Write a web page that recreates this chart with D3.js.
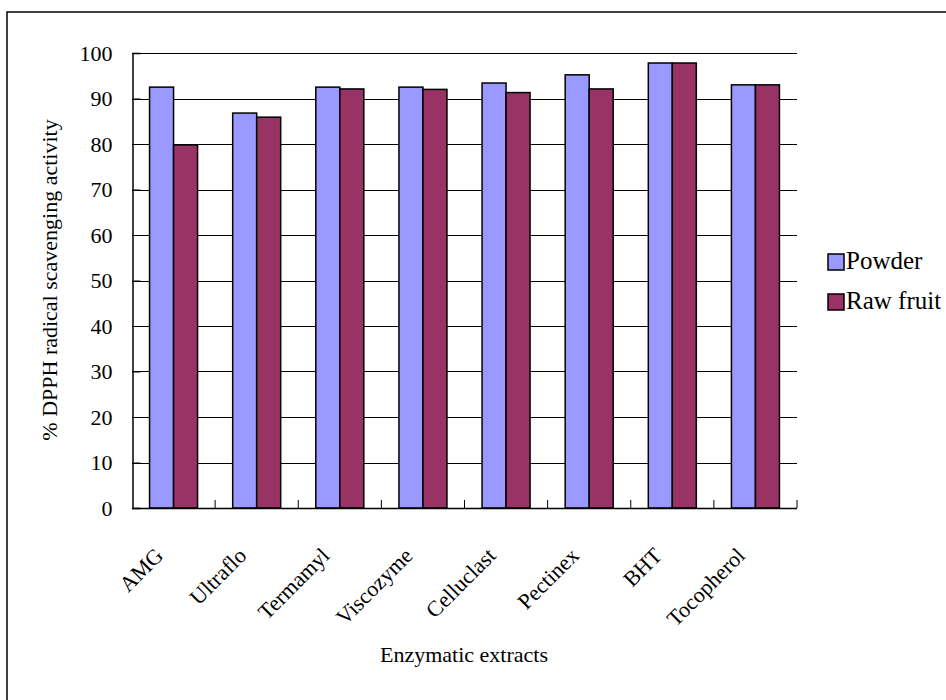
<!DOCTYPE html>
<html>
<head>
<meta charset="utf-8">
<script src="https://cdn.jsdelivr.net/npm/d3@7"></script>
<style>
html,body{margin:0;padding:0;background:#fff;}
svg{display:block;}
text{font-family:"Liberation Serif","Times New Roman",serif;fill:#000;}
</style>
</head>
<body>
<svg id="chart" width="946" height="700" font-family="Liberation Serif, Times New Roman, serif"></svg>
<script>
const categories = ["AMG","Ultraflo","Termamyl","Viscozyme","Celluclast","Pectinex","BHT","Tocopherol"];
const seriesNames = ["Powder","Raw fruit"];
const powder = [92.5, 86.8, 92.5, 92.5, 93.4, 95.2, 97.8, 93.0];
const rawFruit = [79.8, 85.9, 92.1, 92.0, 91.3, 92.1, 97.8, 93.0];
const yTicks = [0,10,20,30,40,50,60,70,80,90,100];
const colors = ["#9999FF","#993366"];

const svg = d3.select("#chart");
const pLeft = 132, pRight = 797, pTop = 53, pBottom = 508;
const FONT = "Liberation Serif, Times New Roman, serif";

// outer border
svg.append("rect").attr("x",7).attr("y",12).attr("width",960).attr("height",720)
  .attr("fill","#fff").attr("stroke","#000").attr("stroke-width",1.5);

const x = d3.scaleBand().domain(categories).range([pLeft,pRight]).paddingInner(0.4225).paddingOuter(0.21125);
const xs = d3.scaleBand().domain(seriesNames).range([0,x.bandwidth()]);
const y = d3.scaleLinear().domain([0,100]).range([pBottom,pTop]);

// gridlines
svg.append("g").selectAll("line").data(yTicks.filter(d=>d>0)).join("line")
  .attr("x1",pLeft).attr("x2",pRight).attr("y1",d=>Math.round(y(d))+0.5).attr("y2",d=>Math.round(y(d))+0.5)
  .attr("stroke","#000").attr("stroke-width",1);

// bars
const data = categories.map((c,i)=>({c, vals:[powder[i], rawFruit[i]]}));
const g = svg.append("g").selectAll("g").data(data).join("g")
  .attr("transform",d=>`translate(${x(d.c)},0)`);
g.selectAll("rect").data(d=>d.vals.map((v,j)=>({v,s:seriesNames[j],j}))).join("rect")
  .attr("x",d=>xs(d.s)).attr("width",xs.bandwidth())
  .attr("y",d=>y(d.v)).attr("height",d=>pBottom-y(d.v))
  .attr("fill",d=>colors[d.j]).attr("stroke","#000").attr("stroke-width",1.5);

// y axis
const yAxis = d3.axisLeft(y).tickValues(yTicks).tickSize(-8).tickPadding(20);
const ya = svg.append("g").attr("transform",`translate(${pLeft+0.5},0)`).call(yAxis)
  .attr("font-family",FONT);
ya.select(".domain").attr("stroke","#000").attr("stroke-width",1.5);
ya.selectAll(".tick line").attr("stroke","#000");
ya.selectAll(".tick text").attr("font-size",22).attr("font-family",FONT).attr("fill","#000");

// x axis line and boundary ticks
svg.append("line").attr("x1",pLeft).attr("x2",pRight).attr("y1",pBottom+0.5).attr("y2",pBottom+0.5)
  .attr("stroke","#000").attr("stroke-width",1.5);
const step = x.step();
svg.append("g").selectAll("line").data(categories.map((c,i)=>i+1)).join("line")
  .attr("x1",i=>pLeft+step*i).attr("x2",i=>pLeft+step*i)
  .attr("y1",pBottom).attr("y2",pBottom-8).attr("stroke","#000").attr("stroke-width",1);

// category labels
svg.append("g").selectAll("text").data(categories).join("text")
  .attr("transform",d=>`translate(${x(d)+x.bandwidth()/2-9},557) rotate(-45)`)
  .attr("text-anchor","end").attr("font-size",22).attr("font-family",FONT).text(d=>d);

// axis titles
svg.append("text").attr("transform","translate(57,280) rotate(-90)")
  .attr("text-anchor","middle").attr("font-size",22).attr("font-family",FONT)
  .text("% DPPH radical scavenging activity");
svg.append("text").attr("x",464).attr("y",662)
  .attr("text-anchor","middle").attr("font-size",22).attr("font-family",FONT)
  .text("Enzymatic extracts");

// legend
const lg = svg.append("g").selectAll("g").data(seriesNames).join("g")
  .attr("transform",(d,i)=>`translate(828,${254+i*40})`);
lg.append("rect").attr("width",16).attr("height",16)
  .attr("fill",(d,i)=>colors[i]).attr("stroke","#000").attr("stroke-width",1.5);
lg.append("text").attr("x",18).attr("y",15).attr("font-size",25).attr("font-family",FONT).text(d=>d);
</script>
</body>
</html>
